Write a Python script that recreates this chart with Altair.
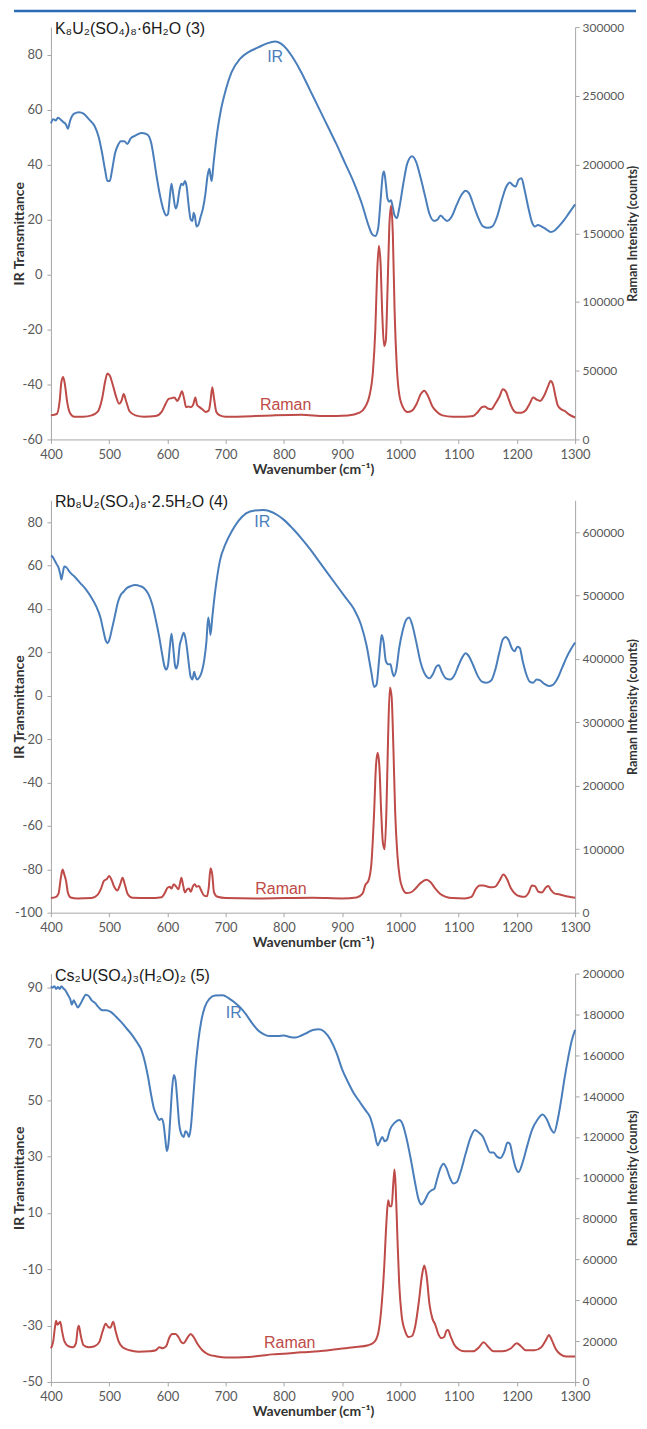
import altair as alt
import pandas as pd

BLUE = "#4a7ebb"
RED = "#be4b48"

# ---------------- Panel 1: K8U2(SO4)8·6H2O (3) ----------------
ir1_wn = [400,404,408,412,416,421,426,429,433,440,448,456,465,475,482,488,493,497,501,505,510,515,520,526,531,537,545,555,565,572,577,582,588,594,598,601,604,607,610,614,617,621,624,627,630,633,636,640,643,645,647,650,653,657,661,665,669,672,674,676,679,685,692,700,710,725,740,755,770,785,795,805,815,830,845,860,875,890,905,920,935,945,952,957,962,966,970,972,975,978,981,984,986,990,994,998,1005,1012,1020,1027,1035,1043,1050,1058,1064,1069,1074,1080,1088,1097,1105,1112,1118,1126,1134,1142,1150,1158,1166,1174,1182,1188,1193,1198,1203,1208,1213,1220,1226,1231,1236,1242,1250,1258,1265,1272,1280,1290,1300]
ir1 = [55,56.5,56,57,56.5,55.5,54.5,53,56,58.5,59,58.5,56.5,54,50,44,38,34,34,38,44,47,48.5,48.5,47.5,49.5,50.5,51.5,51,48,42,35,28,23,21.5,22,28,33,29,24,25.5,31,33,32.5,34,32,26,20,19.5,22.5,21.5,17.5,18,21,24,29,36,38.5,36,34,40,51,60,67,73.5,78.5,81,82.5,84,84.8,84,82,79,73.5,67,60.5,54,47.5,40.5,33.5,25,18,14.5,14,17,27,36.5,37.5,33,27.5,26.5,27,25.5,21.5,20.5,24,33,40.5,43,41,35,28,22,19.5,20,21.5,20.5,19.5,21,25.5,29,30.5,29.5,25,20.5,17.5,17,17.5,21,27,32,33.5,32.5,32,34.5,35,31,24,19,17.5,18,17.5,16.5,15.5,16,17.5,19.5,22.5,25.5]
ra1_wn = [400,410,415,418,421,424,428,433,440,455,470,480,488,493,497,501,506,512,517,521,525,529,535,545,560,580,590,597,602,607,612,617,621,625,629,632,636,640,644,648,651,655,660,666,671,674,677,680,684,690,700,750,780,830,870,910,930,940,947,953,957,960,963,966,969,972,975,978,981,984,987,990,994,998,1005,1012,1020,1028,1035,1041,1047,1055,1063,1072,1090,1110,1125,1133,1140,1145,1150,1156,1163,1170,1176,1181,1187,1193,1200,1208,1215,1222,1228,1234,1240,1247,1253,1258,1262,1266,1270,1276,1283,1290,1300]
ra1_k = [17.5,18.5,28,42,45.5,40,27,19,16.5,16.5,17.5,20,30,42,48,46.5,40,31,26,28,33,28,20.5,17.5,16.5,17,20,26,29.5,30,30.5,28,31,35,29,23.5,24,23.5,25,30.5,25,23.5,22,20,21,28,38,30,20,17.5,16.5,17,17.5,18,17,17.5,19.5,24,32,50,80,120,141,128,90,68,72,110,155,170,150,95,52,33,23,20,21,26,33,35.5,32,24,20,17.5,16.5,16.5,17,20,23.5,24,22.5,22,26,31,36.5,35,28,22,19.5,19.5,21,26,30.5,29,28,32,38,42.5,40,32,25,22,20.5,18,16]

# ---------------- Panel 2: Rb8U2(SO4)8·2.5H2O (4) ----------------
ir2_wn = [400,403,406,410,413,416,418,420,423,427,432,440,450,460,470,478,485,490,494,497,500,505,510,515,520,525,530,537,545,553,560,567,574,580,586,591,595,598,601,604,607,610,613,615,618,621,624,628,631,634,637,640,643,646,648,651,655,659,663,667,670,672,674,677,682,690,700,710,722,735,750,765,780,790,800,815,830,845,860,875,890,905,920,932,942,950,955,959,963,966,968,971,975,979,983,986,989,993,998,1004,1010,1015,1020,1027,1035,1043,1050,1056,1062,1066,1071,1078,1086,1093,1100,1107,1112,1118,1125,1133,1140,1148,1156,1163,1170,1176,1181,1186,1192,1196,1201,1205,1210,1216,1222,1228,1234,1240,1247,1255,1262,1270,1278,1286,1293,1300]
ir2 = [64.5,64,62.5,60.5,59,56,53.5,56,59.5,59,57,55,52,49,45,41,36,30,25.5,24.2,25.5,31,37,43,46.5,48,49.5,50.5,51,50.5,49.5,47,42,35,27,19,13.5,12,14,22,28.5,22,14,12.5,15,23,26,29,26.5,21,14,8.5,7.5,11,9,7.5,8.5,11,16,25,36,33,28,36,48,62,70,75.5,80.5,84,85.3,85.5,84.5,83,81,77,72.5,67.5,62,56.5,51,45.5,40,33,23,11,4,5,15,24,28,25,16,14.5,14.5,11,9,12,22,30,35,36,33,25,15,9.5,8,10,13.5,14,11,8,7.5,9.5,14,18,19.5,18,14,9,6.5,6,7,12,20,26,27,25.5,21.5,20.5,22.5,22,16,10,6.5,6,7.5,7,5.5,4.5,5,8,13,18,21.5,24.5]
ra2_wn = [400,408,413,417,420,423,426,429,434,445,470,480,486,491,496,500,504,509,514,519,523,527,532,540,570,590,596,600,604,607,611,615,619,622,624,627,630,634,637,640,644,647,650,654,658,663,668,671,674,677,680,686,700,750,800,850,900,925,935,940,945,950,955,958,961,964,967,970,973,976,979,982,985,988,991,995,999,1004,1010,1018,1026,1035,1045,1052,1060,1068,1078,1090,1110,1122,1130,1136,1143,1150,1157,1163,1170,1177,1183,1190,1197,1205,1213,1220,1226,1231,1237,1243,1250,1254,1259,1265,1272,1280,1290,1300]
ra2_k = [23,24.5,30,55,68,60,50,32,24,22.5,23,28,38,50,53,58,52,40,35,45,55,44,29,23.5,23,24.5,32,39,41,38,45,41,37,48,55,43,32,37,38,33,42,45,41,42,35,27,26,40,70,60,32,25,23,22.5,23,23.5,22.5,24,30,44,50,75,160,230,252,230,160,110,100,160,280,355,340,260,160,90,55,38,31,32,38,47,52,48,38,30,25,23,22.5,25,38,43,43,41,40,41,50,60,53,38,30,26,25,31,43,42,33,32,40,42,35,30,29,27,25,23.5]

# ---------------- Panel 3: Cs2U(SO4)3(H2O)2 (5) ----------------
ir3_wn = [400,403,406,409,412,415,418,421,425,429,433,436,439,442,446,450,455,460,465,470,476,482,488,495,502,508,515,522,530,540,548,555,562,567,572,577,582,586,590,593,596,599,602,605,608,611,614,617,620,624,628,631,634,637,640,644,648,653,658,664,672,682,695,705,715,725,735,745,755,765,775,790,800,810,820,830,840,850,860,870,880,890,900,910,920,930,940,948,955,961,965,969,973,977,982,990,998,1004,1010,1018,1025,1031,1036,1042,1048,1053,1058,1063,1069,1074,1079,1085,1091,1097,1104,1112,1120,1128,1135,1142,1148,1154,1160,1166,1172,1178,1184,1188,1193,1198,1203,1210,1218,1226,1235,1244,1252,1258,1264,1270,1276,1282,1288,1294,1300]
ir3 = [90.5,90,90.5,89.5,90.2,89.5,90.5,89.8,89,87.5,86,84,85.5,84.5,83,84,86,87.5,87,85.5,84.5,83,82,82,81.5,80.5,79,77.5,75.5,73,70.5,68,63,58,52,47,44.5,43,43.5,42,37,32,35,44,54,59,57,50,42,38,37,39,38.5,37,40,50,61,71,78,83,86,87.2,87.3,86.3,84.8,83,80.5,77.5,75,73.5,72.8,72.8,73,72.5,72.3,73,74,75,75.2,74.3,71.5,67,61,56.5,52.5,49.5,46.5,44,39,34,35.5,37,35.5,36,39.5,42,43,41.5,37,29,21,15,13,14.5,17,18,18.5,22,26,27.5,26,22.5,20.5,21,25,31,36.5,39.5,38.5,37,34,31.5,31.5,30,29.5,31.5,35,34.5,30,26,24.5,28,34,39.5,43,45,43,40,38.5,43,50,58,65,71,75]
ra3_wn = [400,404,407,409,411,413,416,419,423,430,438,443,446,448,451,456,465,475,483,489,494,498,502,507,511,516,523,535,550,570,580,586,592,598,603,608,614,619,624,628,634,640,645,652,660,670,685,700,720,740,760,780,800,830,860,890,920,945,955,962,967,972,976,979,982,985,988,990,992,995,998,1002,1008,1014,1020,1026,1032,1037,1041,1045,1050,1055,1060,1065,1070,1075,1079,1082,1086,1092,1100,1110,1125,1135,1143,1150,1160,1175,1190,1200,1207,1215,1230,1242,1250,1255,1260,1267,1275,1285,1300]
ra3_k = [16.5,20,27,30,28,28.5,29.5,25,20,17.5,17,19,26,27.5,23,18,17,17.5,19.5,25,28.5,27,26.5,29.5,25,20,17,15.5,14.8,15,15.5,17,16.5,17.5,21.5,23.5,23.5,22,19.5,19,21.5,23.5,22,18.5,15.5,13.5,12.5,12,12,12.2,12.8,13.5,13.8,14.5,15,16,17,18,19.5,24,35,55,78,89,86,86,98,104,95,70,48,33,25,22,22.5,28,40,52,57,52,38,31,28,23.5,21.5,22,25,25.5,22.5,18.5,16,15,15,17,19.5,17.5,15,15,16.5,19,17.5,15.5,15.5,17,20.5,23,20.5,16,13.5,12.5,12.5]

titles = ["K₈U₂(SO₄)₈·6H₂O (3)", "Rb₈U₂(SO₄)₈·2.5H₂O (4)", "Cs₂U(SO₄)₃(H₂O)₂ (5)"]
left_domains = [[-60, 90], [-100, 90], [-50, 95]]
left_ticks = [list(range(-60, 81, 20)), list(range(-100, 81, 20)), list(range(-50, 91, 20))]
right_domains = [[0, 300000], [0, 650000], [0, 200000]]
right_ticks = [list(range(0, 300001, 50000)), list(range(0, 600001, 100000)), list(range(0, 200001, 20000))]
ir_label_pos = [(785, 79), (763, 80), (714, 81)]
raman_label_pos = [(803, -47.5), (795, -89), (810, -36)]
x_ticks = list(range(400, 1301, 100))
heights = [413, 413, 409]


def panel(i, wn_ir, ir, wn_ra, ra_k, rule=False):
    ir_df = pd.DataFrame({"wn": wn_ir, "ir": ir})
    ra_df = pd.DataFrame({"wn": wn_ra, "raman": [v * 1000 for v in ra_k]})
    x = alt.X("wn:Q", scale=alt.Scale(domain=[400, 1300], nice=False, zero=False),
              axis=alt.Axis(values=x_ticks, title="Wavenumber (cm⁻¹)", labelPadding=5,
                            titlePadding=1, titleFontSize=14, labelFlush=False,
                            labelExpr="datum.value + ''"))
    lscale = alt.Scale(domain=left_domains[i], nice=False, zero=False)
    ir_line = alt.Chart(ir_df).mark_line(color=BLUE, strokeWidth=2, interpolate="monotone").encode(
        x=x,
        y=alt.Y("ir:Q", scale=lscale,
                axis=alt.Axis(values=left_ticks[i], orient="left", title="IR Transmittance",
                              titleAngle=270, titleBaseline="bottom", titleX=-24, labelPadding=5,
                              titleFontSize=14, labelExpr="datum.value + ''")))
    ra_line = alt.Chart(ra_df).mark_line(color=RED, strokeWidth=2, interpolate="monotone").encode(
        x=x,
        y=alt.Y("raman:Q", scale=alt.Scale(domain=right_domains[i], nice=False, zero=False),
                axis=alt.Axis(values=right_ticks[i], orient="right",
                              title="Raman Intensity (counts)", titleAngle=270,
                              titleBaseline="top", titleX=51, labelPadding=3,
                              labelFontSize=12, titleFontSize=12.5,
                              labelExpr="datum.value + ''")))
    lab_df = pd.DataFrame({"wn": [ir_label_pos[i][0], raman_label_pos[i][0]],
                           "lv": [ir_label_pos[i][1], raman_label_pos[i][1]],
                           "t": ["IR", "Raman"], "c": [BLUE, RED]})
    labels = alt.Chart(lab_df).mark_text(font="Liberation Sans", fontSize=16, baseline="middle").encode(
        x=x, y=alt.Y("lv:Q", scale=lscale, axis=None), text="t:N",
        color=alt.Color("c:N", scale=None))
    tdf = pd.DataFrame({"t": [titles[i]]})
    title = alt.Chart(tdf).mark_text(font="Liberation Sans", fontSize=16, align="left",
                                     baseline="middle", color="#1a1a1a").encode(
        x=alt.value(4), y=alt.value(2), text="t:N")
    layers = [ir_line, ra_line, labels, title]
    if rule:
        rdf = pd.DataFrame({"a": [0]})
        layers.append(alt.Chart(rdf).mark_rule(color="#2a6db5", strokeWidth=2.5).encode(
            x=alt.value(-37), x2=alt.value(586), y=alt.value(-16)))
    return alt.layer(*layers).resolve_scale(y="independent").properties(width=525, height=heights[i])


p1 = panel(0, ir1_wn, ir1, ra1_wn, ra1_k, rule=True)
p2 = panel(1, ir2_wn, ir2, ra2_wn, ra2_k)
p3 = panel(2, ir3_wn, ir3, ra3_wn, ra3_k)

chart = alt.vconcat(p1, p2, p3, spacing=61, bounds="flush").properties(
    padding={"left": 4, "top": 0, "right": 0, "bottom": 0}
).configure_view(stroke=None).configure_axis(
    labelFont="Lato", labelFontSize=13, labelColor="#595959",
    titleFont="Lato", titleFontSize=13, titleFontWeight="bold", titleColor="#333333",
    domainColor="#a6a6a6", tickColor="#a6a6a6", tickSize=4, grid=False
)

chart.save("out.html", embed_options={"renderer": "svg", "actions": False})
